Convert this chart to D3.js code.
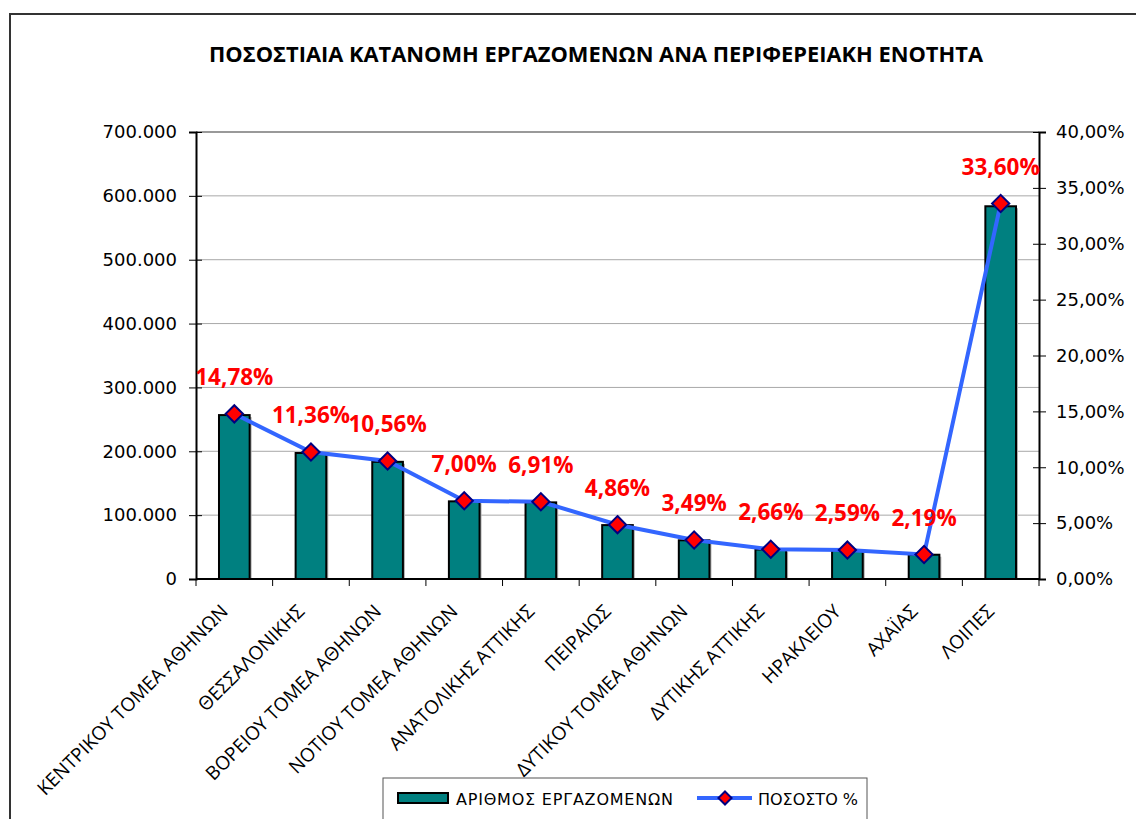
<!DOCTYPE html>
<html>
<head>
<meta charset="utf-8">
<script src="https://cdn.jsdelivr.net/npm/d3@7"></script>
<style>
  body { margin: 0; background: #fff; }
  svg { display: block; }
  .tick text { font-family: "DejaVu Sans", sans-serif; font-size: 18px; fill: #000; }
</style>
</head>
<body>
<div id="chart"></div>
<script>
var categories = ["ΚΕΝΤΡΙΚΟΥ ΤΟΜΕΑ ΑΘΗΝΩΝ", "ΘΕΣΣΑΛΟΝΙΚΗΣ", "ΒΟΡΕΙΟΥ ΤΟΜΕΑ ΑΘΗΝΩΝ",
  "ΝΟΤΙΟΥ ΤΟΜΕΑ ΑΘΗΝΩΝ", "ΑΝΑΤΟΛΙΚΗΣ ΑΤΤΙΚΗΣ", "ΠΕΙΡΑΙΩΣ", "ΔΥΤΙΚΟΥ ΤΟΜΕΑ ΑΘΗΝΩΝ",
  "ΔΥΤΙΚΗΣ ΑΤΤΙΚΗΣ", "ΗΡΑΚΛΕΙΟΥ", "ΑΧΑΪΑΣ", "ΛΟΙΠΕΣ"];
var employees = [256700, 197300, 183500, 121600, 120000, 84400, 60600, 46200, 45000, 38000, 583700];
var percents = [0.1478, 0.1136, 0.1056, 0.0700, 0.0691, 0.0486, 0.0349, 0.0266, 0.0259, 0.0219, 0.3360];
var leftTicks = [0, 100000, 200000, 300000, 400000, 500000, 600000, 700000];
var rightTicks = [0, 0.05, 0.10, 0.15, 0.20, 0.25, 0.30, 0.35, 0.40];

var title = "ΠΟΣΟΣΤΙΑΙΑ ΚΑΤΑΝΟΜΗ ΕΡΓΑΖΟΜΕΝΩΝ ΑΝΑ ΠΕΡΙΦΕΡΕΙΑΚΗ ΕΝΟΤΗΤΑ";
var legendBar = "ΑΡΙΘΜΟΣ ΕΡΓΑΖΟΜΕΝΩΝ",
    legendLine = "ΠΟΣΟΣΤΟ %";

var W = 1136, H = 819;
var margin = { top: 132, right: 97, bottom: 240, left: 196 };

var gr = d3.formatLocale({ decimal: ",", thousands: ".", grouping: [3], currency: ["", "€"] });
var fmtNum = gr.format(",.0f"),
    fmtPct = gr.format(".2%");

var svg = d3.select("#chart").append("svg")
    .attr("width", W)
    .attr("height", H);

// outer chart frame
svg.append("rect")
    .attr("x", 10).attr("y", 14)
    .attr("width", W + 50).attr("height", H + 50)
    .attr("fill", "#fff")
    .attr("stroke", "#333")
    .attr("stroke-width", 2);

svg.append("text")
    .attr("x", 596).attr("y", 62)
    .attr("text-anchor", "middle")
    .attr("font-family", "Open Sans, sans-serif")
    .attr("font-weight", 700)
    .attr("font-size", 21)
    .attr("textLength", 774)
    .attr("lengthAdjust", "spacingAndGlyphs")
    .text(title);

var x = d3.scaleBand()
    .domain(categories)
    .range([margin.left, W - margin.right])
    .paddingInner(0.6)
    .paddingOuter(0.3);

var y0 = d3.scaleLinear().domain([0, 700000]).range([H - margin.bottom, margin.top]);
var y1 = d3.scaleLinear().domain([0, 0.4]).range(y0.range());

var x0 = margin.left, x1 = W - margin.right, yb = y0(0);

// gridlines
svg.append("g")
    .selectAll("line").data(leftTicks.slice(1))
  .enter().append("line")
    .attr("x1", x0).attr("x2", x1)
    .attr("y1", function(d) { return y0(d); })
    .attr("y2", function(d) { return y0(d); })
    .attr("stroke", function(d) { return d === 700000 ? "#777" : "#a8a8a8"; })
    .attr("stroke-width", function(d) { return d === 700000 ? 1.5 : 1; });

// bars (shadow + bar)
var bars = svg.append("g");
bars.selectAll(".shadow").data(employees)
  .enter().append("rect")
    .attr("class", "shadow")
    .attr("x", function(d, i) { return x(categories[i]) + 2; })
    .attr("y", function(d) { return y0(d) + 2; })
    .attr("width", x.bandwidth())
    .attr("height", function(d) { return yb - y0(d) - 2; })
    .attr("fill", "#b0b0b0");
bars.selectAll(".bar").data(employees)
  .enter().append("rect")
    .attr("class", "bar")
    .attr("x", function(d, i) { return x(categories[i]); })
    .attr("y", function(d) { return y0(d); })
    .attr("width", x.bandwidth())
    .attr("height", function(d) { return yb - y0(d); })
    .attr("fill", "#008080")
    .attr("stroke", "#000")
    .attr("stroke-width", 2);

// left axis
var axL = svg.append("g")
    .attr("transform", "translate(" + x0 + ",0)")
    .call(d3.axisLeft(y0).tickValues(leftTicks).tickFormat(fmtNum).tickSize(7).tickPadding(12));
axL.select(".domain").attr("stroke", "#000").attr("stroke-width", 2);
axL.selectAll(".tick line").attr("x2", -7).attr("x1", 6).attr("stroke", "#000");

// right axis
var axR = svg.append("g")
    .attr("transform", "translate(" + x1 + ",0)")
    .call(d3.axisRight(y1).tickValues(rightTicks).tickFormat(fmtPct).tickSize(7).tickPadding(10));
axR.select(".domain").attr("stroke", "#000").attr("stroke-width", 2);
axR.selectAll(".tick line").attr("x2", 7).attr("x1", -6).attr("stroke", "#000");

// bottom axis: line + boundary ticks
svg.append("line")
    .attr("x1", x0).attr("x2", x1)
    .attr("y1", yb).attr("y2", yb)
    .attr("stroke", "#000").attr("stroke-width", 2);
svg.append("g")
    .selectAll("line").data(d3.range(categories.length + 1))
  .enter().append("line")
    .attr("x1", function(i) { return x0 + i * x.step(); })
    .attr("x2", function(i) { return x0 + i * x.step(); })
    .attr("y1", yb).attr("y2", yb + 7)
    .attr("stroke", "#000");

svg.append("g")
    .selectAll("text").data(categories)
  .enter().append("text")
    .attr("transform", function(d) {
      return "translate(" + (x(d) + x.bandwidth() / 2 - 10) + "," + (yb + 29) + ") rotate(-45)";
    })
    .attr("text-anchor", "end")
    .attr("dy", "0.35em")
    .attr("font-family", "Open Sans, sans-serif")
    .attr("font-size", 19)
    .attr("fill", "#000")
    .text(function(d) { return d; });

// percentage line
var cx = function(d, i) { return x(categories[i]) + x.bandwidth() / 2; };
var line = d3.line()
    .x(cx)
    .y(function(d) { return y1(d); });

svg.append("path")
    .datum(percents)
    .attr("d", line)
    .attr("fill", "none")
    .attr("stroke", "#3366ff")
    .attr("stroke-width", 4);

var diamond = d3.symbol().type(d3.symbolDiamond2).size(190);
svg.append("g")
    .selectAll("path").data(percents)
  .enter().append("path")
    .attr("d", diamond)
    .attr("transform", function(d, i) { return "translate(" + cx(d, i) + "," + y1(d) + ")"; })
    .attr("fill", "#ff0000")
    .attr("stroke", "#000080")
    .attr("stroke-width", 2);

svg.append("g")
    .selectAll("text").data(percents)
  .enter().append("text")
    .attr("x", cx)
    .attr("y", function(d) { return y1(d) - 29; })
    .attr("text-anchor", "middle")
    .attr("font-family", "Open Sans, sans-serif")
    .attr("font-weight", 700)
    .attr("font-size", 22.5)
    .attr("fill", "#ff0000")
    .text(function(d) { return fmtPct(d); });

// legend
var lg = svg.append("g");
lg.append("rect")
    .attr("x", 383).attr("y", 778)
    .attr("width", 484).attr("height", 70)
    .attr("fill", "#fff")
    .attr("stroke", "#555");
lg.append("rect")
    .attr("x", 398).attr("y", 793)
    .attr("width", 50).attr("height", 10)
    .attr("fill", "#008080")
    .attr("stroke", "#000")
    .attr("stroke-width", 2);
lg.append("text")
    .attr("x", 456).attr("y", 805)
    .attr("font-family", "DejaVu Sans, sans-serif")
    .attr("font-size", 16)
    .attr("textLength", 217)
    .attr("lengthAdjust", "spacing")
    .text(legendBar);
lg.append("line")
    .attr("x1", 697).attr("x2", 752)
    .attr("y1", 798).attr("y2", 798)
    .attr("stroke", "#3366ff").attr("stroke-width", 4);
lg.append("path")
    .attr("d", d3.symbol().type(d3.symbolDiamond2).size(110))
    .attr("transform", "translate(725,798)")
    .attr("fill", "#ff0000")
    .attr("stroke", "#000080")
    .attr("stroke-width", 2);
lg.append("text")
    .attr("x", 758).attr("y", 805)
    .attr("font-family", "DejaVu Sans, sans-serif")
    .attr("font-size", 16)
    .attr("textLength", 100)
    .attr("lengthAdjust", "spacing")
    .text(legendLine);
</script>
</body>
</html>
